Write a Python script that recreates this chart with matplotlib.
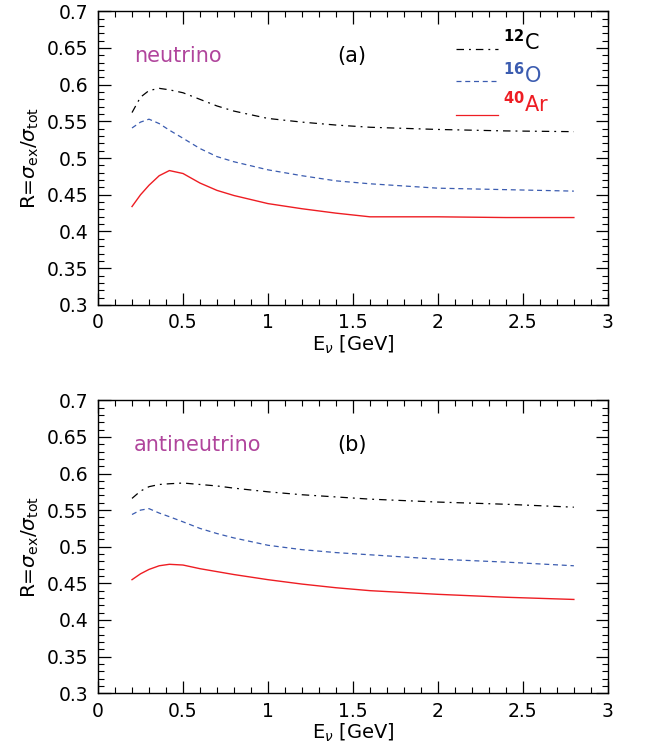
import matplotlib.pyplot as plt
from matplotlib.ticker import MultipleLocator, FuncFormatter

# energies (GeV)
e_nu = [0.2, 0.25, 0.3, 0.36, 0.42, 0.5, 0.6, 0.7, 0.8, 1.0, 1.2, 1.4, 1.6, 2.0, 2.4, 2.8]

# neutrino (a)
c12_nu = [0.562, 0.583, 0.592, 0.595, 0.593, 0.589, 0.580, 0.571, 0.564, 0.554, 0.549, 0.545, 0.542, 0.539, 0.537, 0.536]
o16_nu = [0.541, 0.549, 0.553, 0.547, 0.538, 0.527, 0.513, 0.502, 0.495, 0.484, 0.476, 0.469, 0.465, 0.459, 0.457, 0.455]
ar40_nu = [0.434, 0.450, 0.463, 0.476, 0.483, 0.479, 0.466, 0.456, 0.449, 0.438, 0.431, 0.425, 0.420, 0.420, 0.419, 0.419]

# antineutrino (b)
c12_anu = [0.566, 0.576, 0.582, 0.585, 0.586, 0.587, 0.585, 0.583, 0.580, 0.575, 0.571, 0.568, 0.565, 0.561, 0.558, 0.554]
o16_anu = [0.544, 0.550, 0.552, 0.546, 0.541, 0.534, 0.525, 0.518, 0.512, 0.502, 0.496, 0.492, 0.489, 0.483, 0.479, 0.474]
ar40_anu = [0.455, 0.463, 0.469, 0.474, 0.476, 0.475, 0.470, 0.466, 0.462, 0.455, 0.449, 0.444, 0.440, 0.435, 0.431, 0.428]

panels = [
    ("neutrino", "(a)", c12_nu, o16_nu, ar40_nu),
    ("antineutrino", "(b)", c12_anu, o16_anu, ar40_anu),
]

RED = "#ee1d23"
BLUE = "#3b5cb0"
MAGENTA = "#b0459c"
DASHDOT = (0, (6, 4, 1.5, 4))
DASHED = (0, (4, 3))

fig = plt.figure(figsize=(6.47, 7.51), dpi=100)
ax_a = fig.add_axes([0.1515, 0.594, 0.788, 0.391])
ax_b = fig.add_axes([0.1515, 0.077, 0.788, 0.390])

fmt = FuncFormatter(lambda v, pos: f"{v:g}")

for ax, (name, tag, c12, o16, ar40) in zip([ax_a, ax_b], panels):
    ax.plot(e_nu, c12, color="black", lw=0.9, ls=DASHDOT)
    ax.plot(e_nu, o16, color=BLUE, lw=0.9, ls=DASHED)
    ax.plot(e_nu, ar40, color=RED, lw=1.0)

    ax.set_xlim(0, 3)
    ax.set_ylim(0.3, 0.7)
    ax.xaxis.set_major_locator(MultipleLocator(0.5))
    ax.xaxis.set_minor_locator(MultipleLocator(0.1))
    ax.yaxis.set_major_locator(MultipleLocator(0.05))
    ax.yaxis.set_minor_locator(MultipleLocator(0.01))
    ax.xaxis.set_major_formatter(fmt)
    ax.yaxis.set_major_formatter(fmt)
    ax.tick_params(which="both", direction="in", top=True, right=True, labelsize=13.5)
    ax.tick_params(which="major", length=9, width=0.9)
    ax.tick_params(which="minor", length=4.5, width=0.8)
    ax.tick_params(axis="x", pad=6)
    ax.tick_params(axis="y", pad=7)
    for s in ax.spines.values():
        s.set_linewidth(1.0)

    ax.set_xlabel(r"E$_\nu$ [GeV]", fontsize=14, labelpad=1)
    ax.set_ylabel(r"R=$\sigma_{\rm ex}/\sigma_{\rm tot}$", fontsize=14.5, labelpad=4)

    ax.text(0.07, 0.848, name, transform=ax.transAxes, color=MAGENTA,
            fontsize=15, va="center", ha="left")
    ax.text(0.498, 0.848, tag, transform=ax.transAxes, color="black",
            fontsize=15, va="center", ha="center")

# legend drawn by hand in panel (a)
legend_items = [
    (r"$^{\mathbf{12}}$C", "black", DASHDOT, 0.873, 0.895),
    (r"$^{\mathbf{16}}$O", BLUE, DASHED, 0.763, 0.786),
    (r"$^{\mathbf{40}}$Ar", RED, "-", 0.648, 0.685),
]
for label, col, style, yl, yt in legend_items:
    ax_a.plot([0.702, 0.784], [yl, yl], transform=ax_a.transAxes, color=col,
              ls=style, lw=0.9)
    ax_a.text(0.795, yt, label, transform=ax_a.transAxes, color=col,
              fontsize=15, va="center", ha="left")

fig.savefig("out.png", dpi=100)
